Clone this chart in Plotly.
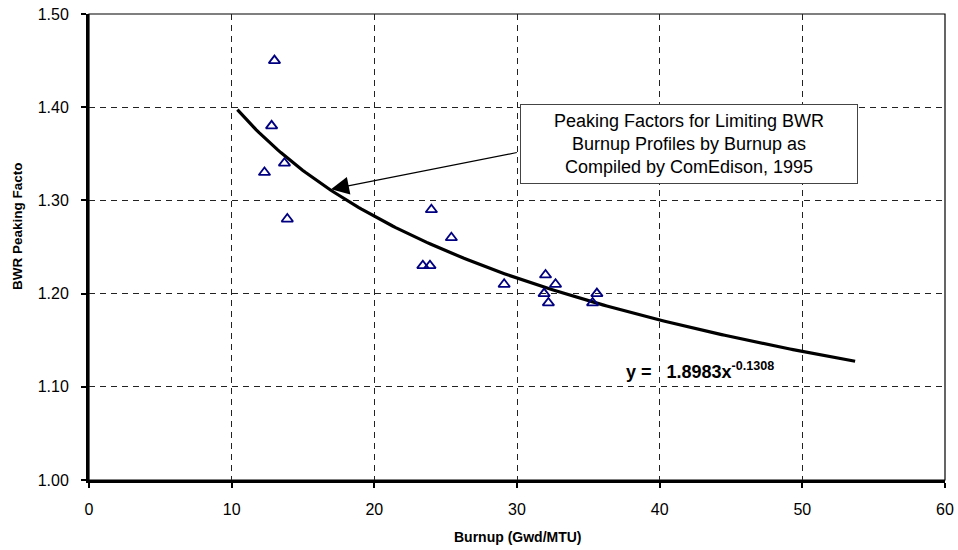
import plotly.graph_objects as go
import numpy as np

# Data
burnup = [13.0, 12.8, 13.7, 12.3, 13.9, 24.0, 25.4, 23.4, 23.9, 29.1, 32.0, 32.7, 31.9, 32.2, 35.6, 35.3]
peaking = [1.45, 1.38, 1.34, 1.33, 1.28, 1.29, 1.26, 1.23, 1.23, 1.21, 1.22, 1.21, 1.20, 1.19, 1.20, 1.19]

# Power trendline as printed on the chart: y = 1.8983 x^-0.1308
trend_a = 1.8983
trend_b = -0.1308
trend_range = [10.4, 53.7]

x_ticks = [0, 10, 20, 30, 40, 50, 60]
y_ticks = [1.00, 1.10, 1.20, 1.30, 1.40, 1.50]

FONT = "Liberation Sans, Arial, sans-serif"

trend_x = np.linspace(trend_range[0], trend_range[1], 200)
trend_y = trend_a * trend_x ** trend_b

fig = go.Figure()
fig.add_trace(go.Scatter(
    x=trend_x, y=trend_y, mode="lines",
    line=dict(color="black", width=3.2), hoverinfo="skip", showlegend=False))
fig.add_trace(go.Scatter(
    x=burnup, y=peaking, mode="markers",
    marker=dict(symbol="triangle-up-open", size=10, color="#000080",
                line=dict(color="#000080", width=1.8)),
    showlegend=False))

axis_common = dict(
    showline=True, linecolor="black", linewidth=3,
    ticks="outside", ticklen=5, tickwidth=2, tickcolor="black",
    showgrid=True, gridcolor="#222222", gridwidth=1, griddash="6px,5px",
    zeroline=False, tickfont=dict(family=FONT, size=16, color="black"),
    automargin=False,
)

fig.update_xaxes(range=[0, 60], tickvals=x_ticks, ticktext=[str(v) for v in x_ticks],
                 ticklabelstandoff=8, **axis_common)
fig.update_yaxes(range=[1.0, 1.5], tickvals=y_ticks,
                 ticktext=[f"{v:.2f}" for v in y_ticks],
                 ticklabelstandoff=9, **axis_common)

# Thin plot-area border (top / right)
fig.add_shape(type="rect", xref="paper", yref="paper", x0=0, x1=1, y0=0, y1=1,
              line=dict(color="black", width=1.2), layer="below")

# Axis titles
fig.add_annotation(text="<b>Burnup (Gwd/MTU)</b>", xref="paper", yref="paper",
                   x=0.501, y=0, yanchor="middle", yshift=-57, showarrow=False,
                   font=dict(family=FONT, size=14, color="black"))
fig.add_annotation(text="<b>BWR Peaking Facto</b>", xref="paper", yref="paper",
                   x=0, y=0.545, xanchor="center", xshift=-72, textangle=-90,
                   showarrow=False, font=dict(family=FONT, size=13.5, color="black"))

# Callout arrow
fig.add_annotation(x=16.96, y=1.312, ax=30.2, ay=1.352, axref="x", ayref="y",
                   xref="x", yref="y", text=" ", showarrow=True,
                   arrowhead=2, arrowsize=3.0, arrowwidth=1.2, arrowcolor="black",
                   standoff=0)

# Callout box
fig.add_annotation(x=42.05, y=1.3605, xref="x", yref="y",
                   text="Peaking Factors for Limiting BWR<br>Burnup Profiles by Burnup as<br>Compiled by ComEdison, 1995",
                   showarrow=False, width=332, height=74, align="center",
                   bgcolor="white", bordercolor="#444444", borderwidth=1, borderpad=2,
                   font=dict(family=FONT, size=18, color="black"))

# Equation label
fig.add_annotation(x=37.5, y=1.118, xref="x", yref="y", xanchor="left", yanchor="middle",
                   text="<b>y =&nbsp;&nbsp; 1.8983x<sup>-0.1308</sup></b>",
                   showarrow=False, font=dict(family=FONT, size=18, color="black"))

fig.update_layout(
    width=958, height=550,
    margin=dict(l=89, r=13, t=14, b=70, autoexpand=False),
    paper_bgcolor="white", plot_bgcolor="white",
    font=dict(family=FONT, color="black"),
)

fig.write_html("out.html", config={"displayModeBar": False},
               post_script="document.body.style.margin='0px';document.body.style.overflow='hidden';")
